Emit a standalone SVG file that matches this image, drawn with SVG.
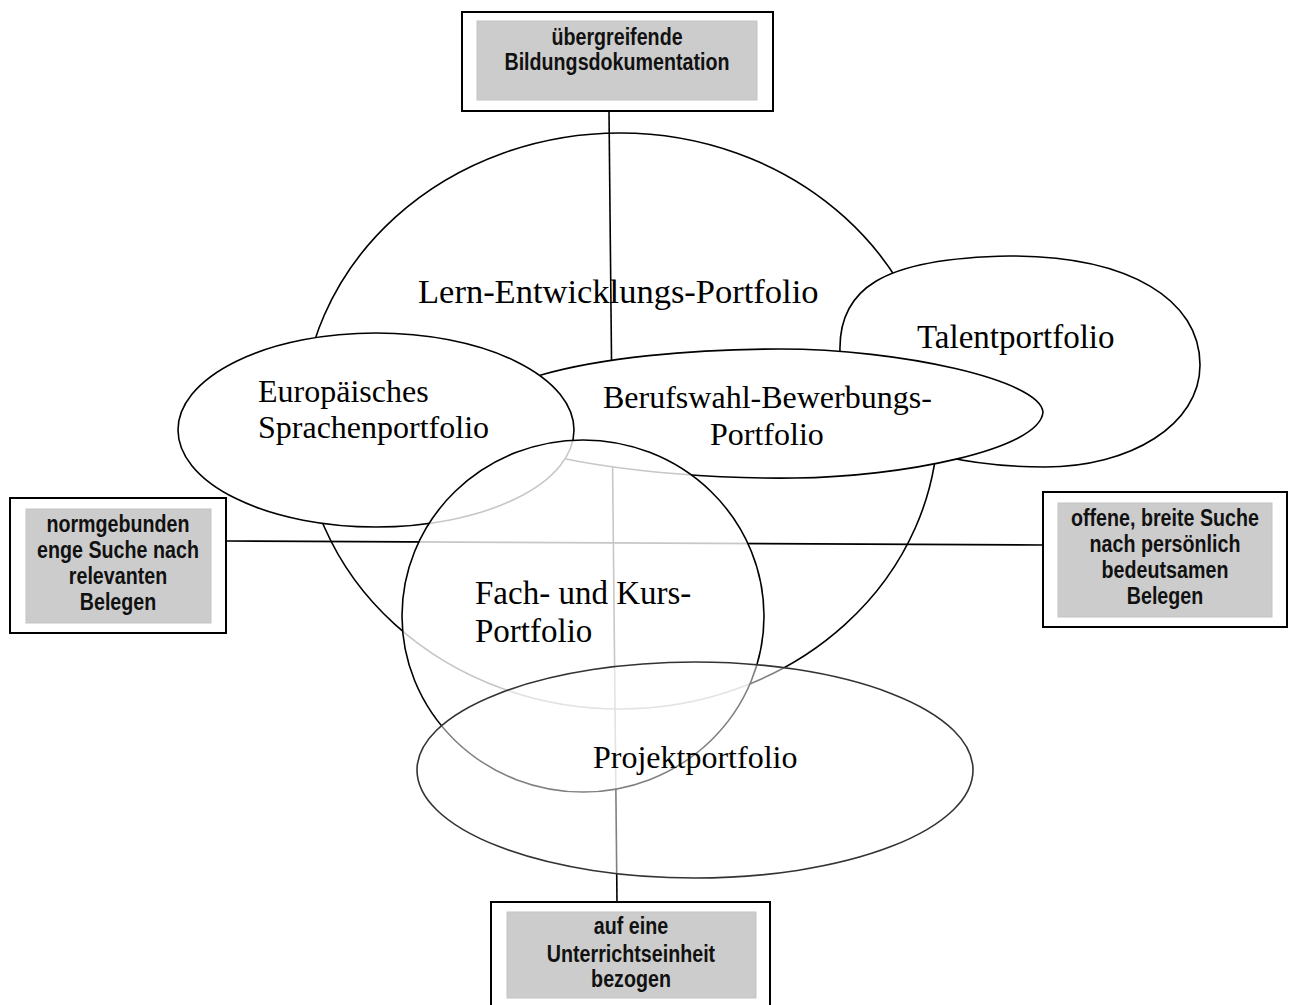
<svg xmlns="http://www.w3.org/2000/svg" width="1296" height="1005" viewBox="0 0 1296 1005">
<style>
.shape{stroke:#000;stroke-width:1.6;fill:#fff}
.lbl{font-family:"Liberation Serif","Times New Roman",serif;font-size:32px;fill:#000}
.conn{stroke:#000;stroke-width:1.6;fill:none}
.outer{fill:#fff;stroke:#000;stroke-width:2}
.inner{fill:#cccccc;stroke:#c4c4c4;stroke-width:1}
.bt{font-family:"Liberation Sans",Arial,sans-serif;font-weight:bold;font-size:24px;fill:#111;text-anchor:middle}
</style>
<rect width="1296" height="1005" fill="#fff"/>
<g id="lern">
<ellipse class="shape" cx="620" cy="421" rx="318" ry="288" style="fill:none"/>
<text class="lbl" x="418" y="303" style="font-size:34.5px">Lern-Entwicklungs-Portfolio</text>
</g>
<g id="connectors">
<line class="conn" x1="609" y1="111" x2="617" y2="902"/>
<line class="conn" x1="226" y1="541" x2="1043" y2="545"/>
</g>
<g id="talent">
<path class="shape" d="M840,352 C838,290 880,258 1010,256 C1130,256 1200,300 1200,365 C1200,425 1130,467 1045,467 C970,467 900,450 880,430 C860,410 840,380 840,352 Z"/>
<text class="lbl" x="917" y="348" style="font-size:33px">Talentportfolio</text>
</g>
<g id="berufswahl">
<path class="shape" d="M1043,412 C1040,380 900,349 780,349 C690,349 600,358 541,375 C525,382 515,400 515,418 C515,440 540,452 566,459 C630,472 720,479 795,478 C900,477 1040,450 1043,412 Z"/>
<text class="lbl" x="603" y="408">Berufswahl-Bewerbungs-</text>
<text class="lbl" x="710" y="445">Portfolio</text>
</g>
<g id="europa">
<ellipse class="shape" cx="376" cy="430" rx="198" ry="97"/>
<text class="lbl" x="258" y="402">Europäisches</text>
<text class="lbl" x="258" y="438">Sprachenportfolio</text>
</g>
<g id="fach">
<ellipse class="shape" cx="583" cy="616" rx="181" ry="176" style="fill-opacity:0.78"/>
<text class="lbl" x="475" y="604" style="font-size:33px">Fach- und Kurs-</text>
<text class="lbl" x="475" y="642" style="font-size:33px">Portfolio</text>
</g>
<g id="projekt">
<ellipse class="shape" cx="695" cy="770" rx="278" ry="108" style="fill-opacity:0.5;stroke:#333"/>
<text class="lbl" x="593" y="768">Projektportfolio</text>
</g>
<g id="box-top">
<rect class="outer" x="462" y="12" width="311" height="99"/>
<rect class="inner" x="477" y="21" width="280" height="79"/>
<g transform="translate(617,0) scale(0.82,1)">
<text class="bt" x="0" y="45">übergreifende</text>
<text class="bt" x="0" y="70">Bildungsdokumentation</text>
</g>
</g>
<g id="box-left">
<rect class="outer" x="10" y="498" width="216" height="135"/>
<rect class="inner" x="26" y="509" width="185" height="114"/>
<g transform="translate(118,0) scale(0.82,1)">
<text class="bt" x="0" y="532">normgebunden</text>
<text class="bt" x="0" y="558">enge Suche nach</text>
<text class="bt" x="0" y="584">relevanten</text>
<text class="bt" x="0" y="610">Belegen</text>
</g>
</g>
<g id="box-right">
<rect class="outer" x="1043" y="492" width="244" height="135"/>
<rect class="inner" x="1058" y="503" width="214" height="114"/>
<g transform="translate(1165,0) scale(0.82,1)">
<text class="bt" x="0" y="526">offene, breite Suche</text>
<text class="bt" x="0" y="552">nach persönlich</text>
<text class="bt" x="0" y="578">bedeutsamen</text>
<text class="bt" x="0" y="604">Belegen</text>
</g>
</g>
<g id="box-bottom">
<rect class="outer" x="491" y="902" width="279" height="120"/>
<rect class="inner" x="507" y="912" width="249" height="86"/>
<g transform="translate(631,0) scale(0.82,1)">
<text class="bt" x="0" y="934">auf eine</text>
<text class="bt" x="0" y="962">Unterrichtseinheit</text>
<text class="bt" x="0" y="987">bezogen</text>
</g>
</g>
</svg>
